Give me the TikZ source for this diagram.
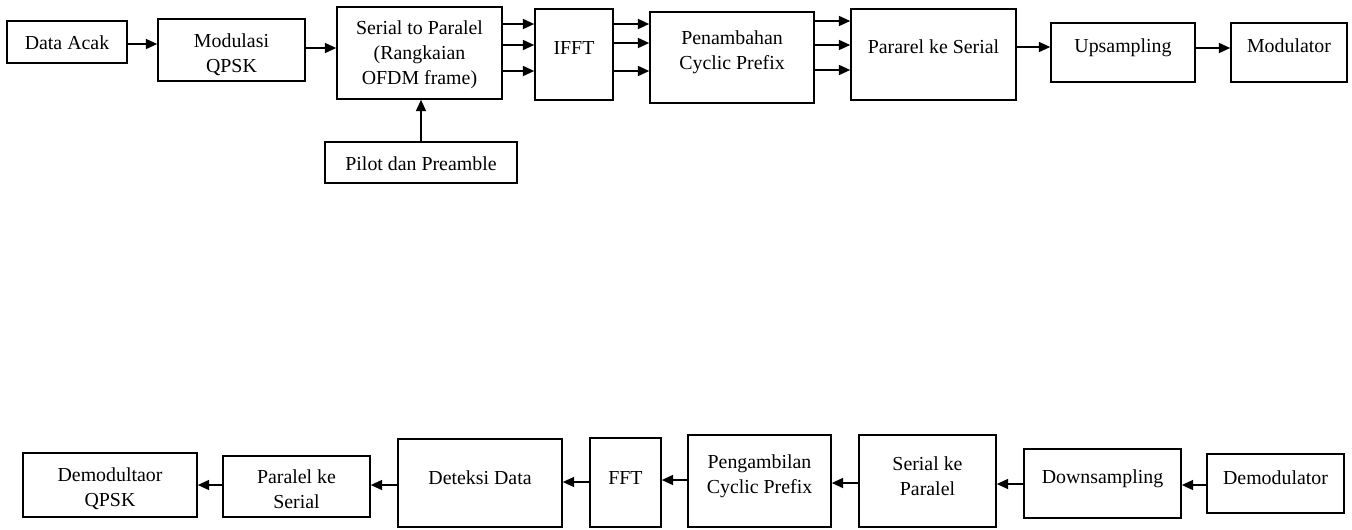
\documentclass[tikz,border=0pt]{standalone}
\usepackage{fontspec}
\setmainfont{Liberation Serif}
\usetikzlibrary{arrows.meta}
\newcommand\diafont{\fontsize{14.9}{18.6}\selectfont}
\begin{document}
\begin{tikzpicture}[x=0.75pt,y=-0.75pt,
  box/.style={draw,line width=1.2pt,inner sep=0pt,align=center,font=\diafont},
  txt/.style={inner sep=0pt,align=center,font=\diafont},
  sz/.style 2 args={minimum width=#1*0.75pt,minimum height=#2*0.75pt},
  arr/.style={line width=1.3pt,-{Triangle[length=8.5pt,width=7.5pt]}}]
\useasboundingbox (0,0) rectangle (1352,529);
% ---- top row ----
\node[box,sz={120}{42}] (acak) at (67,42) {};
\node[txt] (acakt) at (67,43) {Data Acak};
\node[box,sz={147}{62}] (mod) at (231.5,50) {};
\node[txt] (modt) at (231.5,55) {Modulasi\\QPSK};
\node[box,sz={165}{92}] (s2p) at (419.5,53) {};
\node[txt] (s2pt) at (419.5,54.5) {Serial to Paralel\\(Rangkaian\\OFDM frame)};
\node[box,sz={192}{41}] (pilot) at (421,162.5) {};
\node[txt] (pilott) at (421,163.5) {Pilot dan Preamble};
\node[box,sz={78}{91}] (ifft) at (574,54.5) {};
\node[txt] (ifftt) at (574,48) {IFFT};
\node[box,sz={164}{91}] (cp) at (732,57.5) {};
\node[txt] (cpt) at (732,52.5) {Penambahan\\Cyclic Prefix};
\node[box,sz={165}{91}] (p2s) at (933.5,54.5) {};
\node[txt] (p2st) at (933.5,47) {Pararel ke Serial};
\node[box,sz={144}{59}] (up) at (1123,52.5) {};
\node[txt] (upt) at (1123,47.5) {Upsampling};
\node[box,sz={116}{59}] (modr) at (1289,52.5) {};
\node[txt] (modrt) at (1289,46) {Modulator};
% ---- bottom row ----
\node[box,sz={174}{64}] (dqpsk) at (110,485) {};
\node[txt] (dqpskt) at (110,489) {Demodultaor\\QPSK};
\node[box,sz={147}{61}] (pks) at (296.5,486.5) {};
\node[txt] (pkst) at (296.5,489.5) {Paralel ke\\Serial};
\node[box,sz={164}{88}] (det) at (480,483) {};
\node[txt] (dett) at (480,478) {Deteksi Data};
\node[box,sz={71}{89}] (fft) at (625.5,482.5) {};
\node[txt] (fftt) at (625.5,478) {FFT};
\node[box,sz={143}{92}] (rcp) at (759.5,481) {};
\node[txt] (rcpt) at (759.5,476) {Pengambilan\\Cyclic Prefix};
\node[box,sz={137}{92}] (skp) at (927.5,481) {};
\node[txt] (skpt) at (927.5,476) {Serial ke\\Paralel};
\node[box,sz={157}{69}] (down) at (1102.5,483.5) {};
\node[txt] (downt) at (1102.5,478.5) {Downsampling};
\node[box,sz={137}{59}] (demod) at (1275.5,483.5) {};
\node[txt] (demodt) at (1275.5,478) {Demodulator};
% ---- top arrows ----
\draw[arr] (acak.east |- 0,44) -- (mod.west |- 0,44);
\draw[arr] (mod.east |- 0,48) -- (s2p.west |- 0,48);
\foreach \yy in {24,45,71} \draw[arr] (s2p.east |- 0,\yy) -- (ifft.west |- 0,\yy);
\foreach \yy in {24,43,71} \draw[arr] (ifft.east |- 0,\yy) -- (cp.west |- 0,\yy);
\foreach \yy in {21,45,70} \draw[arr] (cp.east |- 0,\yy) -- (p2s.west |- 0,\yy);
\draw[arr] (p2s.east |- 0,47) -- (up.west |- 0,47);
\draw[arr] (up.east |- 0,48) -- (modr.west |- 0,48);
\draw[arr] (pilot.north) -- (pilot.north |- s2p.south);
% ---- bottom arrows ----
\draw[arr] (demod.west |- 0,485) -- (down.east |- 0,485);
\draw[arr] (down.west |- 0,484) -- (skp.east |- 0,484);
\draw[arr] (skp.west |- 0,483) -- (rcp.east |- 0,483);
\draw[arr] (rcp.west |- 0,480) -- (fft.east |- 0,480);
\draw[arr] (fft.west |- 0,482) -- (det.east |- 0,482);
\draw[arr] (det.west |- 0,485) -- (pks.east |- 0,485);
\draw[arr] (pks.west |- 0,485) -- (dqpsk.east |- 0,485);
\end{tikzpicture}
\end{document}
